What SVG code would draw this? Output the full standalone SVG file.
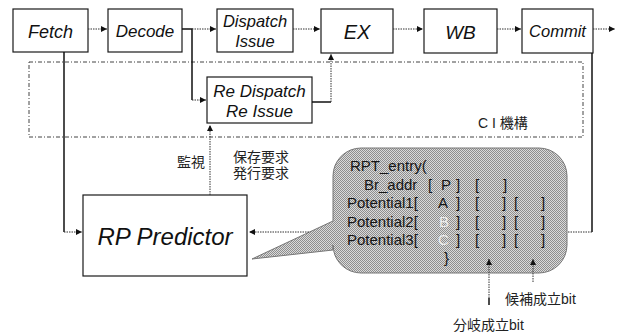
<svg xmlns="http://www.w3.org/2000/svg" width="618" height="335" viewBox="0 0 618 335">
<defs>
<marker id="ah" markerUnits="userSpaceOnUse" markerWidth="6" markerHeight="6" refX="6" refY="3" orient="auto">
<path d="M0,0 L6,3 L0,6 z" fill="#111"/>
</marker>
<pattern id="dither" width="2" height="2" patternUnits="userSpaceOnUse">
<rect width="2" height="2" fill="#dadada"/>
<rect x="0" y="0" width="1" height="1" fill="#8e8e8e"/>
<rect x="1" y="1" width="1" height="1" fill="#8e8e8e"/>
</pattern>
<style>
.box{fill:#fff;stroke:#1a1a1a;stroke-width:1.2}
.lbl{font-family:"Liberation Sans",Arial,sans-serif;font-style:italic;fill:#111;text-anchor:middle}
.dot{fill:none;stroke:#333;stroke-width:1;stroke-dasharray:1.5 1}
.sol{fill:none;stroke:#111;stroke-width:1.5}
.cjk{font-family:"Liberation Sans","Noto Sans CJK JP",sans-serif;font-size:14px;fill:#222}
.bt{font-family:"Liberation Sans",Arial,sans-serif;font-size:15px;fill:#151515}
.faint{fill:#ececec}
</style>
</defs>
<rect width="618" height="335" fill="#fff"/>

<g id="ci-mechanism">
<rect x="29" y="62" width="554" height="75" fill="none" stroke="#444" stroke-width="1" stroke-dasharray="4 2 1 2"/>
<text class="cjk" x="478" y="128">C I 機構</text>
</g>

<g id="fetch"><rect class="box" x="13" y="9" width="75" height="43"/><text class="lbl" x="50.5" y="38" font-size="18">Fetch</text></g>
<g id="decode"><rect class="box" x="108" y="9" width="74" height="43"/><text class="lbl" x="145" y="37" font-size="17">Decode</text></g>
<g id="dispatch"><rect class="box" x="217" y="9" width="76" height="43"/><text class="lbl" x="255" y="27" font-size="16.5">Dispatch</text><text class="lbl" x="255" y="47" font-size="16.5">Issue</text></g>
<g id="ex"><rect class="box" x="321" y="9" width="72" height="44"/><text class="lbl" x="357" y="39" font-size="20">EX</text></g>
<g id="wb"><rect class="box" x="424" y="9" width="73" height="44"/><text class="lbl" x="460.5" y="39" font-size="19">WB</text></g>
<g id="commit"><rect class="box" x="522" y="9" width="71" height="44"/><text class="lbl" x="557.5" y="37" font-size="16.5">Commit</text></g>
<g id="redispatch"><rect class="box" x="207" y="77" width="105" height="46"/><text class="lbl" x="259.5" y="97" font-size="17">Re Dispatch</text><text class="lbl" x="259.5" y="117" font-size="17">Re Issue</text></g>
<g id="rp-predictor"><rect class="box" x="83" y="195" width="164" height="81"/><text class="lbl" x="165" y="245" font-size="24">RP Predictor</text></g>

<g id="rpt-entry">
<path d="M361,148 H539 A28,28 0 0 1 567,176 V245 A28,28 0 0 1 539,273 H361 A28,28 0 0 1 333,245 V250 L252,259 L333,221 V176 A28,28 0 0 1 361,148 Z" fill="url(#dither)" stroke="#777" stroke-width="1"/>
<text class="bt" x="350" y="171">RPT_entry(</text>
<text class="bt" y="190"><tspan x="364">Br_addr</tspan><tspan x="428">[</tspan><tspan x="441">P</tspan><tspan x="456">]</tspan><tspan x="475">[</tspan><tspan x="503">]</tspan></text>
<text class="bt" y="208"><tspan x="347">Potential1[</tspan><tspan x="438">A</tspan><tspan x="456">]</tspan><tspan x="475">[</tspan><tspan x="502">]</tspan><tspan x="514">[</tspan><tspan x="541">]</tspan></text>
<text class="bt" y="227"><tspan x="347">Potential2[</tspan><tspan x="439" class="faint">B</tspan><tspan x="456">]</tspan><tspan x="475">[</tspan><tspan x="502">]</tspan><tspan x="514">[</tspan><tspan x="541">]</tspan></text>
<text class="bt" y="245"><tspan x="347">Potential3[</tspan><tspan x="438" class="faint">C</tspan><tspan x="456">]</tspan><tspan x="475">[</tspan><tspan x="502">]</tspan><tspan x="514">[</tspan><tspan x="541">]</tspan></text>
<text class="bt" x="444" y="263">}</text>
</g>

<g id="connectors">
<path class="dot" d="M88,29 H107" marker-end="url(#ah)"/>
<path class="sol" d="M182,29 H192 V100"/>
<path class="dot" d="M192,29 H216" marker-end="url(#ah)"/>
<path class="dot" d="M192,100 H206" marker-end="url(#ah)"/>
<path class="dot" d="M293,29 H320" marker-end="url(#ah)"/>
<path class="dot" d="M393,29 H423" marker-end="url(#ah)"/>
<path class="dot" d="M497,29 H521" marker-end="url(#ah)"/>
<path class="dot" d="M593,29 H615" marker-end="url(#ah)"/>
<path class="sol" d="M312,102 H331"/>
<path class="dot" d="M331,102 V54" marker-end="url(#ah)"/>
<path class="sol" d="M64,52 V232"/>
<path class="dot" d="M64,232 H82" marker-end="url(#ah)"/>
<path class="sol" d="M592,53 V232"/>
<path class="dot" d="M592,232 H568 M309,232 H249" marker-end="url(#ah)"/>
<path class="dot" d="M210,195 V125" marker-end="url(#ah)"/>
<path class="dot" d="M489,298 V259" marker-end="url(#ah)"/>
<path class="sol" d="M489,298 V305" stroke-width="1"/>
<path class="dot" d="M533,282 V259" marker-end="url(#ah)"/>
</g>

<g id="labels">
<text class="cjk" x="177" y="167">監視</text>
<text class="cjk" x="233" y="162">保存要求</text>
<text class="cjk" x="233" y="178">発行要求</text>
<text class="cjk" x="505" y="304">候補成立bit</text>
<text class="cjk" x="453" y="330">分岐成立bit</text>
</g>
</svg>
